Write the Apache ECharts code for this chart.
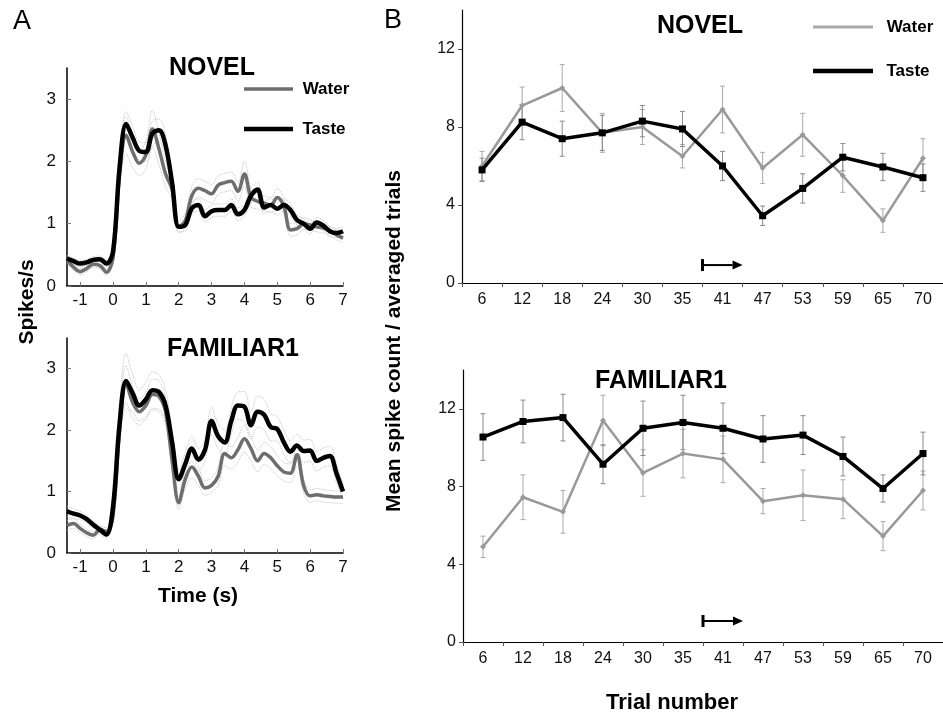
<!DOCTYPE html>
<html><head><meta charset="utf-8">
<script src="https://cdn.jsdelivr.net/npm/echarts@6/dist/echarts.min.js"></script>
<style>html,body{margin:0;padding:0;background:#fff}#c{width:943px;height:718px}</style>
</head><body><div id="c"></div>
<script>
// ---------- Panel A data (peri-stimulus firing rate) ----------
const timeS = [-1.4,-1.2,-1.0,-0.8,-0.6,-0.4,-0.2,0,0.2,0.4,0.6,0.8,1.0,1.2,1.4,1.6,1.8,2.0,2.2,2.4,2.6,2.8,3.0,3.2,3.4,3.6,3.8,4.0,4.2,4.4,4.6,4.8,5.0,5.2,5.4,5.6,5.8,6.0,6.2,6.4,6.6,6.8,7.0];
const novelWater = [0.42,0.30,0.23,0.28,0.35,0.33,0.22,0.45,1.8,2.42,2.15,1.97,2.1,2.52,2.2,1.8,1.55,0.95,1.05,1.45,1.57,1.53,1.48,1.62,1.66,1.68,1.52,1.8,1.42,1.36,1.33,1.3,1.42,1.28,0.9,0.92,1.0,0.98,0.95,0.93,0.88,0.82,0.77];
const novelTaste = [0.44,0.40,0.36,0.38,0.42,0.43,0.36,0.55,1.9,2.6,2.38,2.17,2.15,2.45,2.5,2.26,1.65,0.95,0.98,1.25,1.3,1.12,1.2,1.22,1.22,1.3,1.15,1.22,1.45,1.55,1.26,1.3,1.24,1.3,1.22,1.06,1.0,0.92,1.02,0.97,0.88,0.85,0.88];
const famWater = [0.45,0.48,0.40,0.33,0.29,0.38,0.35,0.6,2.0,2.75,2.45,2.3,2.4,2.58,2.55,2.3,1.5,0.82,1.2,1.4,1.25,1.06,1.1,1.25,1.62,1.55,1.68,1.86,1.7,1.5,1.62,1.55,1.42,1.32,1.3,1.6,1.1,0.93,0.95,0.93,0.92,0.91,0.91];
const famTaste = [0.68,0.64,0.61,0.55,0.46,0.38,0.30,0.75,2.1,2.8,2.6,2.4,2.5,2.65,2.62,2.4,1.8,1.2,1.45,1.7,1.52,1.68,2.15,1.9,1.8,2.15,2.4,2.38,2.08,2.3,2.25,2.05,2.02,1.8,1.65,1.75,1.66,1.67,1.5,1.55,1.58,1.3,1.0];
const novelWaterSem = [0.05,0.05,0.05,0.05,0.05,0.05,0.05,0.08,0.2,0.3,0.25,0.2,0.22,0.3,0.25,0.2,0.15,0.1,0.12,0.15,0.15,0.15,0.15,0.15,0.15,0.15,0.15,0.2,0.15,0.12,0.12,0.12,0.15,0.12,0.1,0.1,0.1,0.08,0.08,0.08,0.08,0.08,0.08];
const novelTasteSem = [0.05,0.05,0.05,0.05,0.05,0.05,0.05,0.08,0.15,0.2,0.18,0.15,0.15,0.2,0.18,0.15,0.12,0.08,0.1,0.1,0.1,0.1,0.1,0.1,0.1,0.1,0.1,0.1,0.12,0.12,0.1,0.1,0.1,0.1,0.1,0.08,0.08,0.08,0.08,0.08,0.07,0.07,0.07];
const famWaterSem = [0.08,0.08,0.07,0.06,0.06,0.06,0.06,0.1,0.25,0.3,0.25,0.22,0.22,0.25,0.25,0.2,0.15,0.1,0.15,0.18,0.15,0.12,0.12,0.15,0.2,0.18,0.2,0.22,0.2,0.18,0.18,0.18,0.16,0.15,0.15,0.18,0.12,0.1,0.1,0.1,0.1,0.1,0.1];
const famTasteSem = [0.08,0.08,0.07,0.06,0.06,0.06,0.06,0.12,0.3,0.45,0.3,0.25,0.28,0.3,0.28,0.25,0.2,0.15,0.18,0.2,0.18,0.18,0.22,0.2,0.2,0.22,0.22,0.25,0.22,0.25,0.25,0.22,0.2,0.2,0.18,0.18,0.18,0.18,0.16,0.16,0.16,0.15,0.12];
const timeTicks = [-1,0,1,2,3,4,5,6,7];
const rateTicks = [0,1,2,3];

// ---------- Panel B data (mean spike count per trial block) ----------
const trials = ['6','12','18','24','30','35','41','47','53','59','65','70'];
const novelWaterB = [6.0,9.1,10.0,7.7,8.0,6.5,8.9,5.9,7.6,5.5,3.2,6.4];
const novelWaterErr = [0.75,0.95,1.2,1.0,0.9,0.6,1.2,0.8,1.1,0.85,0.6,1.0];
const novelTasteB = [5.8,8.25,7.4,7.7,8.3,7.9,6.0,3.45,4.85,6.45,5.95,5.4];
const novelTasteErr = [0.6,0.9,0.9,0.9,0.8,0.9,0.75,0.5,0.75,0.7,0.7,0.7];
const famWaterB = [4.9,7.45,6.7,11.4,8.7,9.7,9.4,7.25,7.55,7.35,5.45,7.8];
const famWaterErr = [0.55,1.15,1.1,1.3,1.2,1.25,1.2,0.65,1.3,1.0,0.75,1.0];
const famTasteB = [10.55,11.35,11.55,9.15,11.0,11.3,11.0,10.45,10.65,9.55,7.9,9.7];
const famTasteErr = [1.2,1.1,1.2,1.0,1.4,1.4,1.3,1.2,1.0,1.0,0.7,1.1];
const countTicks = [0,4,8,12];
// arrow: [start boundary index, end boundary index, height]
const arrowNovel = [6, 7, 0.92];
const arrowFam = [6, 7, 1.08];

const FONT = '"Liberation Sans", Arial, sans-serif';
const chart = echarts.init(document.getElementById('c'), null, {renderer:'canvas'});

const grids = [
  {left:67, top:68, width:276, height:218},
  {left:67, top:338, width:276, height:215},
  {left:462, top:10, width:491, height:273},
  {left:463, top:370, width:491, height:272}
];

function timeAxis(g){
  return {type:'value', gridIndex:g, min:-1.4, max:7,
    axisLine:{show:true, onZero:false, lineStyle:{color:'#000', width:1.5}},
    axisTick:{show:true, inside:true, length:4, customValues:timeTicks, lineStyle:{color:'#777'}},
    axisLabel:{customValues:timeTicks, margin:6, fontSize:17, color:'#111', fontFamily:FONT},
    splitLine:{show:false}};
}
function rateAxis(g){
  return {type:'value', gridIndex:g, min:0, max:3.5,
    axisLine:{show:true, onZero:false, lineStyle:{color:'#000', width:1.5}},
    axisTick:{show:true, inside:true, length:4, customValues:rateTicks, lineStyle:{color:'#777'}},
    axisLabel:{customValues:rateTicks, margin:11, fontSize:17, color:'#111', fontFamily:FONT},
    splitLine:{show:false}};
}
function trialAxis(g){
  return {type:'category', gridIndex:g, data:trials, boundaryGap:true,
    axisLine:{show:true, onZero:false, lineStyle:{color:'#000', width:1.2}},
    axisTick:{show:true, inside:false, length:4, lineStyle:{color:'#555'}},
    axisLabel:{margin:9, fontSize:16, color:'#111', fontFamily:FONT, interval:0},
    splitLine:{show:false}};
}
function countAxis(g){
  return {type:'value', gridIndex:g, min:0, max:14,
    axisLine:{show:true, onZero:false, lineStyle:{color:'#000', width:1.2}},
    axisTick:{show:true, inside:false, length:4, customValues:countTicks, lineStyle:{color:'#555'}},
    axisLabel:{customValues:countTicks, margin:7, fontSize:16, color:'#111', fontFamily:FONT},
    splitLine:{show:false}};
}
function hiddenIdxAxis(g){
  return {type:'value', gridIndex:g, min:0, max:12, show:false};
}

function rateLine(axis, vals, color, width, z){
  return {type:'line', xAxisIndex:axis, yAxisIndex:axis, data:timeS.map((t,i)=>[t, vals[i]]),
    smooth:0.35, showSymbol:false, lineStyle:{color:color, width:width}, z:z, silent:true, animation:false};
}
function semLine(axis, vals, sem, sign){
  return {type:'line', xAxisIndex:axis, yAxisIndex:axis, data:timeS.map((t,i)=>[t, vals[i] + sign*sem[i]]),
    smooth:0.35, showSymbol:false, lineStyle:{color:'#c4c4c4', width:1, type:'dotted'}, z:1, silent:true, animation:false};
}
function countLine(xAxis, yAxis, vals, color, width, symbol, size, z){
  return {type:'line', xAxisIndex:xAxis, yAxisIndex:yAxis, data:vals, symbol:symbol, symbolSize:size,
    showSymbol:true, itemStyle:{color:color}, lineStyle:{color:color, width:width}, z:z, silent:true, animation:false};
}
function errSeries(xAxis, yAxis, means, errs, color){
  return {type:'custom', xAxisIndex:xAxis, yAxisIndex:yAxis, silent:true, animation:false, z:2,
    encode:{x:0, y:1},
    data: means.map((m,i)=>[i, m, errs[i]]),
    renderItem:(params, api)=>{
      const x = api.value(0), m = api.value(1), e = api.value(2);
      const top = api.coord([x, m+e]), bot = api.coord([x, m-e]); const w = 2.5;
      const st = {stroke:color, lineWidth:1};
      return {type:'group', children:[
        {type:'line', shape:{x1:top[0], y1:top[1], x2:bot[0], y2:bot[1]}, style:st},
        {type:'line', shape:{x1:top[0]-w, y1:top[1], x2:top[0]+w, y2:top[1]}, style:st},
        {type:'line', shape:{x1:bot[0]-w, y1:bot[1], x2:bot[0]+w, y2:bot[1]}, style:st}
      ]};
    }};
}
function arrowSeries(xAxis, yAxis, arr){
  return {type:'custom', xAxisIndex:xAxis, yAxisIndex:yAxis, silent:true, animation:false, z:5,
    encode:{x:[0,1], y:2},
    data:[arr],
    renderItem:(params, api)=>{
      const s = api.coord([api.value(0), api.value(2)]);
      const e = api.coord([api.value(1), api.value(2)]);
      const hl = 10, hw = 4.5;
      return {type:'group', children:[
        {type:'line', shape:{x1:s[0], y1:s[1]-6, x2:s[0], y2:s[1]+6}, style:{stroke:'#000', lineWidth:3}},
        {type:'line', shape:{x1:s[0], y1:s[1], x2:e[0]-hl, y2:e[1]}, style:{stroke:'#000', lineWidth:2}},
        {type:'polygon', shape:{points:[[e[0]-hl, e[1]-hw],[e[0], e[1]],[e[0]-hl, e[1]+hw]]}, style:{fill:'#000'}}
      ]};
    }};
}

function txt(x, y, text, size, weight, rot){
  return {type:'text', x:x, y:y, rotation:rot||0, silent:true,
    style:{text:text, fill:'#000', font: (weight||'normal') + ' ' + size + 'px ' + FONT, align:'center', verticalAlign:'middle'}};
}
function seg(x1, x2, y, color, w){
  return {type:'line', silent:true, shape:{x1:x1, y1:y, x2:x2, y2:y}, style:{stroke:color, lineWidth:w}};
}

const option = {
  animation:false,
  backgroundColor:'#fff',
  grid: grids,
  xAxis: [timeAxis(0), timeAxis(1), trialAxis(2), trialAxis(3), hiddenIdxAxis(2), hiddenIdxAxis(3)],
  yAxis: [rateAxis(0), rateAxis(1), countAxis(2), countAxis(3)],
  series: [
    semLine(0, novelWater, novelWaterSem, 1), semLine(0, novelWater, novelWaterSem, -1),
    semLine(0, novelTaste, novelTasteSem, 1), semLine(0, novelTaste, novelTasteSem, -1),
    rateLine(0, novelWater, '#6e6e6e', 3.5, 3),
    rateLine(0, novelTaste, '#000', 4.5, 4),
    semLine(1, famWater, famWaterSem, 1), semLine(1, famWater, famWaterSem, -1),
    semLine(1, famTaste, famTasteSem, 1), semLine(1, famTaste, famTasteSem, -1),
    rateLine(1, famWater, '#6e6e6e', 3.5, 3),
    rateLine(1, famTaste, '#000', 4.5, 4),
    errSeries(2, 2, novelWaterB, novelWaterErr, '#aaaaaa'),
    errSeries(2, 2, novelTasteB, novelTasteErr, '#8a8a8a'),
    countLine(2, 2, novelWaterB, '#999999', 2.5, 'diamond', 6, 3),
    countLine(2, 2, novelTasteB, '#000', 3.5, 'rect', 7, 4),
    errSeries(3, 3, famWaterB, famWaterErr, '#aaaaaa'),
    errSeries(3, 3, famTasteB, famTasteErr, '#8a8a8a'),
    countLine(3, 3, famWaterB, '#999999', 2.5, 'diamond', 6, 3),
    countLine(3, 3, famTasteB, '#000', 3.5, 'rect', 7, 4),
    arrowSeries(4, 2, arrowNovel),
    arrowSeries(5, 3, arrowFam)
  ],
  graphic: [
    txt(22, 22, 'A', 27, 'normal'),
    txt(393, 21, 'B', 27, 'normal'),
    txt(212, 68, 'NOVEL', 25, 'bold'),
    txt(233, 349, 'FAMILIAR1', 25, 'bold'),
    txt(700, 26, 'NOVEL', 25, 'bold'),
    txt(661, 381, 'FAMILIAR1', 25, 'bold'),
    seg(244, 293, 89, '#6e6e6e', 3.5), txt(326, 89, 'Water', 17, 'bold'),
    seg(244, 293, 129, '#000', 4.5), txt(324, 129, 'Taste', 17, 'bold'),
    seg(813, 873, 27, '#aaaaaa', 3), txt(910, 27, 'Water', 17, 'bold'),
    seg(813, 873, 71, '#000', 4.5), txt(908, 71, 'Taste', 17, 'bold'),
    txt(27, 302, 'Spikes/s', 21, 'bold', Math.PI/2),
    txt(198, 596, 'Time (s)', 21, 'bold'),
    txt(394, 341, 'Mean spike count / averaged trials', 21, 'bold', Math.PI/2),
    txt(672, 703, 'Trial number', 22, 'bold')
  ]
};
chart.setOption(option);
</script></body></html>
